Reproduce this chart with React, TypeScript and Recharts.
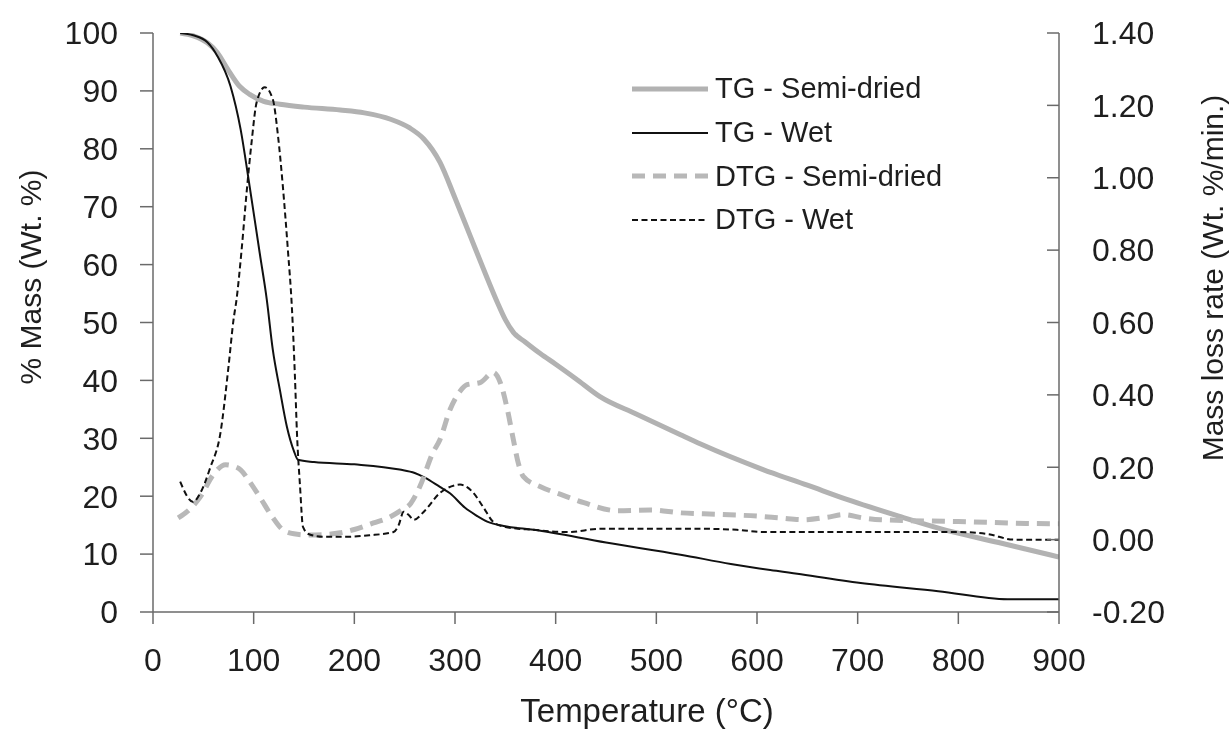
import React from 'react';
import { LineChart, Line, XAxis, YAxis, Legend } from 'recharts';

// [temperature °C, % mass]
const tgSemiDried: [number, number][] = [
  [27, 100], [40, 99.5], [54, 98.3], [64, 96.6], [74, 93.8], [86, 90.8], [96, 89.4],
  [110, 88.2], [126, 87.7], [150, 87.2], [186, 86.7], [210, 86.2], [236, 85.1],
  [255, 83.6], [269, 81.7], [285, 77.7], [300, 71.5], [315, 65], [330, 58.5],
  [342, 53.5], [350, 50.5], [358, 48.3], [370, 46.6], [385, 44.6], [400, 42.8],
  [420, 40.3], [444, 37.2], [480, 34.2], [524, 30.6], [544, 29], [606, 24.6],
  [650, 21.9], [690, 19.4], [740, 16.6], [782, 14.4], [840, 12], [900, 9.5],
];

const tgWet: [number, number][] = [
  [27, 100], [40, 99.6], [54, 98.4], [64, 96], [77, 90.8], [87, 83.4], [96, 73.5],
  [106, 62], [113, 54], [119, 45.3], [126, 38.4], [133, 32], [140, 27.8], [144, 26.3],
  [160, 25.9], [200, 25.5], [245, 24.6], [260, 24], [270, 23.2], [285, 21.6],
  [295, 20.5], [310, 18], [320, 16.8], [332, 15.6], [350, 14.8], [378, 14.2],
  [450, 12], [524, 9.9], [574, 8.3], [640, 6.6], [703, 5], [780, 3.6], [849, 2.2],
  [900, 2.2],
];

// [temperature °C, mass loss rate Wt. %/min.]
const dtgSemiDried: [number, number][] = [
  [25, 0.06], [35, 0.08], [47, 0.118], [60, 0.18], [72, 0.207], [80, 0.203],
  [87, 0.193], [96, 0.16], [106, 0.118], [118, 0.065], [129, 0.027], [140, 0.016],
  [153, 0.013], [170, 0.014], [186, 0.019], [200, 0.028], [219, 0.046], [235, 0.062],
  [246, 0.08], [256, 0.1], [265, 0.146], [278, 0.24], [285, 0.276], [295, 0.359],
  [305, 0.41], [312, 0.428], [325, 0.434], [338, 0.462], [345, 0.434], [352, 0.36],
  [358, 0.276], [363, 0.21], [368, 0.174], [385, 0.146], [405, 0.125], [428, 0.102],
  [461, 0.08], [494, 0.082], [524, 0.074], [560, 0.07], [600, 0.065], [623, 0.06],
  [646, 0.055], [670, 0.062], [686, 0.069], [705, 0.06], [723, 0.055], [800, 0.05],
  [892, 0.044], [900, 0.044],
];

const dtgWet: [number, number][] = [
  [27, 0.16], [40, 0.104], [47, 0.129], [57, 0.2], [67, 0.295], [75, 0.478],
  [80, 0.608], [83, 0.664], [88, 0.8], [93, 0.96], [98, 1.1], [103, 1.209],
  [111, 1.25], [119, 1.217], [124, 1.12], [129, 0.976], [134, 0.8], [138, 0.64],
  [141, 0.45], [143, 0.295], [146, 0.15], [149, 0.035], [155, 0.015], [169, 0.008],
  [193, 0.008], [215, 0.012], [239, 0.021], [244, 0.04], [249, 0.077], [254, 0.068],
  [259, 0.055], [270, 0.08], [285, 0.129], [300, 0.15], [305, 0.152], [312, 0.145],
  [318, 0.13], [328, 0.09], [338, 0.049], [350, 0.035], [378, 0.027], [412, 0.021],
  [445, 0.03], [544, 0.03], [580, 0.027], [607, 0.021], [700, 0.021], [800, 0.021],
  [830, 0.015], [855, 0], [880, 0], [900, 0],
];

const tempTicks = [0, 100, 200, 300, 400, 500, 600, 700, 800, 900];
const massTicks = [0, 10, 20, 30, 40, 50, 60, 70, 80, 90, 100];
const rateTicks = [-0.2, 0, 0.2, 0.4, 0.6, 0.8, 1.0, 1.2, 1.4];

const toPoints = (rows: [number, number][]) => rows.map(([t, v]) => ({ t, v }));

const FONT = '"Liberation Sans", Arial, sans-serif';
const TEXT = '#1e1e1e';
const AXIS = '#6a6a6a';

const series = [
  { name: 'TG - Semi-dried', color: '#b2b2b2', width: 5, dash: undefined as string | undefined },
  { name: 'TG - Wet', color: '#111111', width: 2, dash: undefined as string | undefined },
  { name: 'DTG - Semi-dried', color: '#b8b8b8', width: 5, dash: '13 8' },
  { name: 'DTG - Wet', color: '#111111', width: 2, dash: '6 3.5' },
];

const XTick = ({ x, y, payload }: any) => (
  <text x={x} y={y} dy="0.71em" textAnchor="middle" fontSize={32} fontFamily={FONT} fill={TEXT}>
    {payload.value}
  </text>
);

const LeftTick = ({ x, y, payload }: any) => (
  <text x={x} y={y} dy="0.355em" textAnchor="end" fontSize={32} fontFamily={FONT} fill={TEXT}>
    {payload.value}
  </text>
);

// right axis ticks point inward, so the tick line is drawn here
const RightTick = ({ x, y, payload }: any) => (
  <g>
    <line x1={x - 45} x2={x - 33} y1={y} y2={y} stroke={AXIS} strokeWidth={1.5} />
    <text x={x} y={y} dy="0.355em" textAnchor="start" fontSize={32} fontFamily={FONT} fill={TEXT}>
      {Number(payload.value).toFixed(2)}
    </text>
  </g>
);

const leftTitle = () => (
  <text
    x={22}
    y={269}
    transform="rotate(-90, 22, 269)"
    textAnchor="middle"
    dominantBaseline="central"
    fontSize={30}
    fontFamily={FONT}
    fill={TEXT}
  >
    % Mass (Wt. %)
  </text>
);

const rightTitle = () => (
  <text
    x={1204}
    y={270}
    transform="rotate(-90, 1204, 270)"
    textAnchor="middle"
    dominantBaseline="central"
    fontSize={30}
    fontFamily={FONT}
    fill={TEXT}
  >
    Mass loss rate (Wt. %/min.)
  </text>
);

const bottomTitle = () => (
  <text x={639} y={714} textAnchor="middle" fontSize={33} fontFamily={FONT} fill={TEXT}>
    Temperature (°C)
  </text>
);

const renderLegend = () => (
  <div style={{ fontFamily: FONT, fontSize: 29, color: TEXT }}>
    {series.map((s) => (
      <div key={s.name} style={{ display: 'flex', alignItems: 'center', height: 43.7 }}>
        <svg width={76} height={10} style={{ flex: 'none' }}>
          <line
            x1={0}
            x2={76}
            y1={5}
            y2={5}
            stroke={s.color}
            strokeWidth={s.width}
            strokeDasharray={s.dash}
          />
        </svg>
        <span style={{ marginLeft: 7, whiteSpace: 'nowrap', lineHeight: 1 }}>{s.name}</span>
      </div>
    ))}
  </div>
);

export default function App() {
  return (
    // fixed so the chart never makes the page scroll
    <div style={{ position: 'fixed', left: 8, top: 8 }}>
      <LineChart width={1222} height={722} margin={{ top: 25, right: 0, bottom: 0, left: 0 }}>
        <XAxis
          dataKey="t"
          type="number"
          domain={[0, 900]}
          ticks={tempTicks}
          allowDataOverflow
          height={118}
          tickSize={12}
          tickMargin={24}
          tick={<XTick />}
          axisLine={{ stroke: AXIS, strokeWidth: 1.5 }}
          tickLine={{ stroke: AXIS, strokeWidth: 1.5 }}
          label={bottomTitle}
        />
        <YAxis
          yAxisId="mass"
          orientation="left"
          domain={[0, 100]}
          ticks={massTicks}
          allowDataOverflow
          width={145}
          tickSize={13}
          tickMargin={22}
          tick={<LeftTick />}
          axisLine={{ stroke: AXIS, strokeWidth: 1.5 }}
          tickLine={{ stroke: AXIS, strokeWidth: 1.5 }}
          label={leftTitle}
        />
        <YAxis
          yAxisId="rate"
          orientation="right"
          domain={[-0.2, 1.4]}
          ticks={rateTicks}
          allowDataOverflow
          width={171}
          tickSize={0}
          tickMargin={33}
          tick={<RightTick />}
          tickLine={false}
          axisLine={{ stroke: AXIS, strokeWidth: 1.5 }}
          label={rightTitle}
        />
        <Legend
          layout="vertical"
          align="center"
          verticalAlign="middle"
          content={renderLegend}
          wrapperStyle={{ left: 624, top: 59, width: 340, height: 175 }}
        />
        <Line
          yAxisId="mass"
          data={toPoints(tgSemiDried)}
          dataKey="v"
          name={series[0].name}
          type="monotone"
          stroke={series[0].color}
          strokeWidth={series[0].width}
          dot={false}
          activeDot={false}
          isAnimationActive={false}
        />
        <Line
          yAxisId="mass"
          data={toPoints(tgWet)}
          dataKey="v"
          name={series[1].name}
          type="monotone"
          stroke={series[1].color}
          strokeWidth={series[1].width}
          dot={false}
          activeDot={false}
          isAnimationActive={false}
        />
        <Line
          yAxisId="rate"
          data={toPoints(dtgSemiDried)}
          dataKey="v"
          name={series[2].name}
          type="monotone"
          stroke={series[2].color}
          strokeWidth={series[2].width}
          strokeDasharray={series[2].dash}
          dot={false}
          activeDot={false}
          isAnimationActive={false}
        />
        <Line
          yAxisId="rate"
          data={toPoints(dtgWet)}
          dataKey="v"
          name={series[3].name}
          type="monotone"
          stroke={series[3].color}
          strokeWidth={series[3].width}
          strokeDasharray={series[3].dash}
          dot={false}
          activeDot={false}
          isAnimationActive={false}
        />
      </LineChart>
    </div>
  );
}
